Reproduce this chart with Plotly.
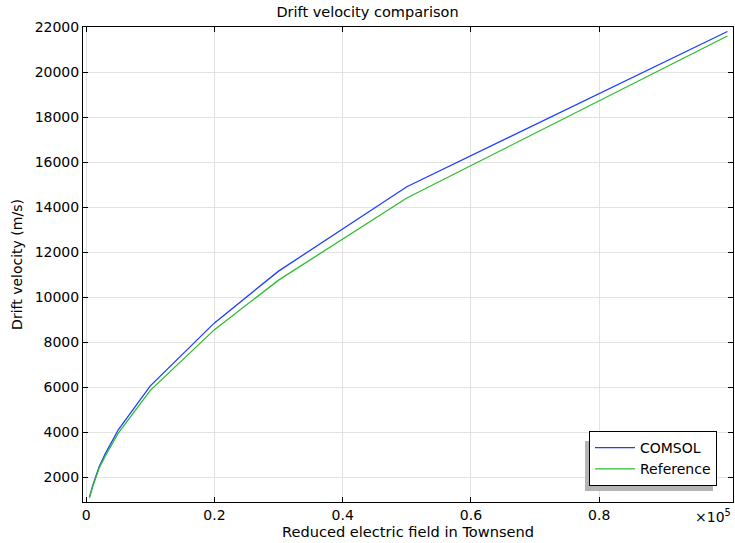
import plotly.graph_objects as go

field_td = [500, 1000, 2000, 3000, 5000, 10000, 20000, 30000, 50000, 100000]
comsol_v = [1100, 1600, 2450, 3050, 4100, 6050, 8850, 11150, 14900, 21800]
reference_v = [1080, 1560, 2380, 2950, 3950, 5850, 8550, 10750, 14400, 21600]

x_tickvals = [0, 20000, 40000, 60000, 80000]
x_ticktext = ["0", "0.2", "0.4", "0.6", "0.8"]
y_tickvals = list(range(2000, 22001, 2000))
y_ticktext = [str(v) for v in y_tickvals]

FONT = "DejaVu Sans, sans-serif"

fig = go.Figure()
fig.add_trace(go.Scatter(x=field_td, y=comsol_v, mode="lines", name="COMSOL",
                         line=dict(color="#1f3fff", width=1.3)))
fig.add_trace(go.Scatter(x=field_td, y=reference_v, mode="lines", name="Reference",
                         line=dict(color="#2ebd2e", width=1.3)))

W, H = 735, 543
ml, mr, mt, mb = 83, 2, 27, 41
pw, ph = W - ml - mr, H - mt - mb

def px_x(p):
    return (p - ml) / pw

def px_y(p):
    return (H - mb - p) / ph

fig.update_layout(
    width=W, height=H,
    margin=dict(l=ml, r=mr, t=mt, b=mb),
    paper_bgcolor="white", plot_bgcolor="white",
    font=dict(family=FONT, size=14, color="black"),
    title=dict(text="Drift velocity comparison", x=0.5, xref="container", xanchor="center",
               y=1 - 12 / H, yref="container", yanchor="middle", font=dict(size=14.5)),
    showlegend=True,
    legend=dict(x=px_x(717), xanchor="right", y=px_y(486), yanchor="bottom",
                bgcolor="white", bordercolor="black", borderwidth=1,
                font=dict(size=14), itemwidth=40, tracegroupgap=0),
    xaxis=dict(range=[-500, 100870], tickvals=x_tickvals, ticktext=x_ticktext,
               showgrid=True, gridcolor="#e3e3e3", gridwidth=1, zeroline=False,
               ticks="inside", ticklen=5, tickcolor="black",
               showline=True, linecolor="black", linewidth=1, mirror="allticks",
               tickfont=dict(size=14),
               title=dict(text="Reduced electric field in Townsend", font=dict(size=14.6), standoff=4)),
    yaxis=dict(range=[889, 22000], tickvals=y_tickvals, ticktext=y_ticktext,
               showgrid=True, gridcolor="#e3e3e3", gridwidth=1, zeroline=False,
               ticks="inside", ticklen=5, tickcolor="black",
               showline=True, linecolor="black", linewidth=1, mirror="allticks",
               tickfont=dict(size=14),
               title=dict(text="Drift velocity (m/s)", font=dict(size=14), standoff=8)),
    shapes=[dict(type="rect", xref="paper", yref="paper",
                 x0=px_x(585), x1=px_x(713), y0=px_y(491), y1=px_y(441),
                 fillcolor="#b4b4b4", line=dict(width=0), layer="above")],
    annotations=[dict(text="×10<sup>5</sup>", xref="paper", yref="paper",
                      x=1.0, xanchor="right", y=px_y(516), yanchor="middle",
                      showarrow=False, font=dict(size=14))],
)

fig.write_html("out.html")
